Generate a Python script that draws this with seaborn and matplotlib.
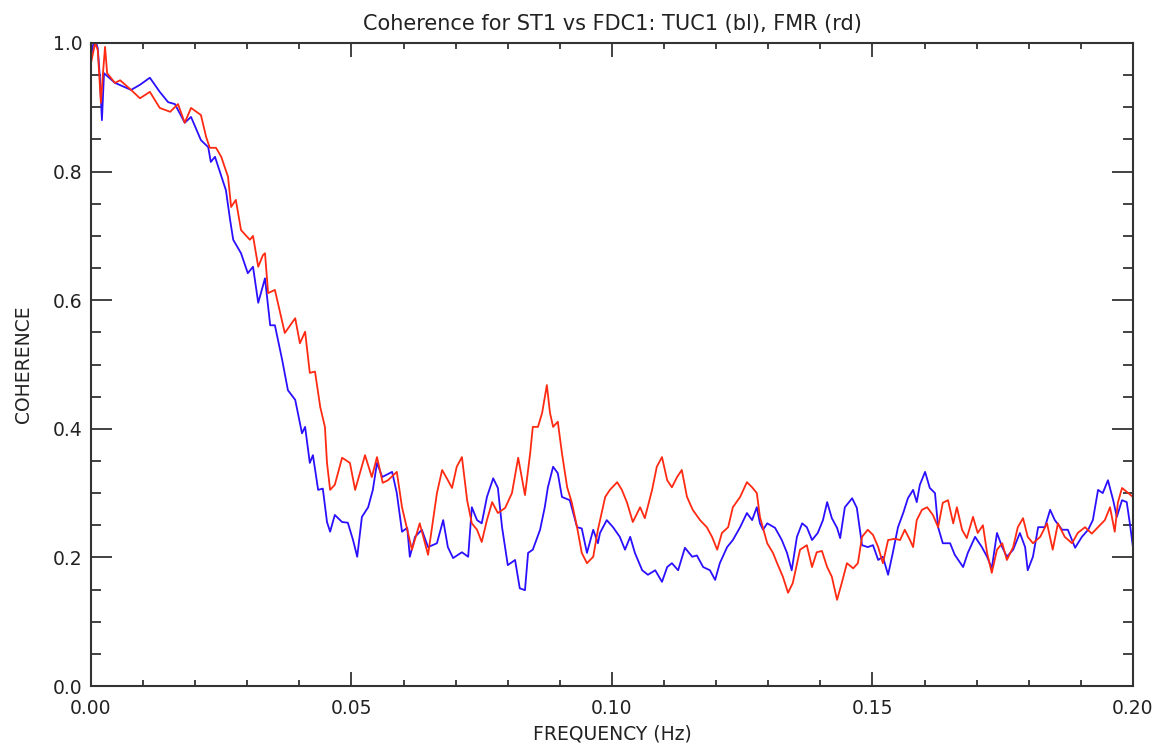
import matplotlib
matplotlib.use("Agg")
import matplotlib.pyplot as plt
from matplotlib.ticker import MultipleLocator, FormatStrFormatter
import numpy as np
import pandas as pd
import seaborn as sns

# TUC1 (blue) coherence
tuc1_freq = [0.0000, 0.0004, 0.0010, 0.0013, 0.0017, 0.0021, 0.0025, 0.0046, 0.0077, 0.0094,
             0.0113, 0.0132, 0.0148, 0.0161, 0.0180, 0.0192, 0.0211, 0.0225, 0.0230, 0.0238,
             0.0248, 0.0259, 0.0267, 0.0273, 0.0288, 0.0301, 0.0311, 0.0321, 0.0334, 0.0344,
             0.0353, 0.0367, 0.0378, 0.0392, 0.0405, 0.0411, 0.0420, 0.0426, 0.0436, 0.0445,
             0.0453, 0.0459, 0.0468, 0.0482, 0.0493, 0.0503, 0.0511, 0.0520, 0.0532, 0.0541,
             0.0549, 0.0559, 0.0578, 0.0587, 0.0597, 0.0607, 0.0612, 0.0622, 0.0635, 0.0647,
             0.0664, 0.0676, 0.0685, 0.0695, 0.0712, 0.0724, 0.0731, 0.0741, 0.0750, 0.0760,
             0.0772, 0.0781, 0.0789, 0.0800, 0.0814, 0.0823, 0.0833, 0.0839, 0.0848, 0.0862,
             0.0871, 0.0877, 0.0887, 0.0896, 0.0904, 0.0919, 0.0933, 0.0942, 0.0952, 0.0964,
             0.0973, 0.0977, 0.0990, 0.1002, 0.1015, 0.1025, 0.1035, 0.1044, 0.1058, 0.1069,
             0.1083, 0.1096, 0.1106, 0.1115, 0.1127, 0.1140, 0.1154, 0.1163, 0.1175, 0.1188,
             0.1198, 0.1207, 0.1221, 0.1232, 0.1246, 0.1259, 0.1269, 0.1278, 0.1284, 0.1290,
             0.1298, 0.1313, 0.1326, 0.1336, 0.1345, 0.1355, 0.1365, 0.1374, 0.1384, 0.1395,
             0.1405, 0.1413, 0.1422, 0.1432, 0.1438, 0.1447, 0.1461, 0.1470, 0.1480, 0.1491,
             0.1501, 0.1511, 0.1520, 0.1530, 0.1539, 0.1549, 0.1559, 0.1568, 0.1578, 0.1585,
             0.1591, 0.1601, 0.1610, 0.1620, 0.1626, 0.1635, 0.1649, 0.1658, 0.1674, 0.1683,
             0.1697, 0.1710, 0.1720, 0.1729, 0.1739, 0.1749, 0.1758, 0.1770, 0.1783, 0.1793,
             0.1798, 0.1808, 0.1818, 0.1831, 0.1841, 0.1850, 0.1864, 0.1875, 0.1889, 0.1902,
             0.1914, 0.1923, 0.1933, 0.1942, 0.1952, 0.1962, 0.1969, 0.1979, 0.1988, 0.1994,
             0.2000]
tuc1_coh = [0.978, 0.997, 1.000, 0.992, 0.947, 0.880, 0.953, 0.938, 0.927, 0.935,
            0.946, 0.924, 0.908, 0.905, 0.876, 0.885, 0.849, 0.838, 0.815, 0.823,
            0.798, 0.771, 0.725, 0.694, 0.673, 0.642, 0.652, 0.596, 0.634, 0.561,
            0.561, 0.507, 0.460, 0.445, 0.393, 0.403, 0.347, 0.359, 0.305, 0.307,
            0.255, 0.240, 0.266, 0.255, 0.254, 0.227, 0.201, 0.263, 0.278, 0.305,
            0.347, 0.325, 0.333, 0.300, 0.240, 0.246, 0.201, 0.232, 0.243, 0.216,
            0.222, 0.258, 0.216, 0.199, 0.208, 0.201, 0.278, 0.258, 0.253, 0.294,
            0.323, 0.308, 0.247, 0.188, 0.196, 0.152, 0.149, 0.207, 0.212, 0.243,
            0.278, 0.309, 0.341, 0.331, 0.294, 0.289, 0.247, 0.245, 0.207, 0.243,
            0.222, 0.238, 0.258, 0.247, 0.232, 0.212, 0.232, 0.207, 0.180, 0.173,
            0.180, 0.162, 0.185, 0.191, 0.180, 0.215, 0.201, 0.203, 0.185, 0.180,
            0.165, 0.191, 0.216, 0.227, 0.247, 0.269, 0.258, 0.278, 0.253, 0.243,
            0.253, 0.246, 0.227, 0.207, 0.180, 0.232, 0.253, 0.247, 0.227, 0.238,
            0.258, 0.286, 0.261, 0.246, 0.230, 0.278, 0.292, 0.277, 0.219, 0.216,
            0.219, 0.196, 0.201, 0.173, 0.207, 0.247, 0.269, 0.292, 0.305, 0.286,
            0.313, 0.333, 0.308, 0.300, 0.247, 0.222, 0.222, 0.204, 0.185, 0.207,
            0.232, 0.216, 0.201, 0.183, 0.238, 0.216, 0.201, 0.212, 0.238, 0.216,
            0.180, 0.201, 0.247, 0.247, 0.274, 0.258, 0.243, 0.243, 0.215, 0.232,
            0.243, 0.258, 0.305, 0.300, 0.320, 0.289, 0.263, 0.289, 0.286, 0.253,
            0.216]

# FMR (red) coherence
fmr_freq = [0.0000, 0.0008, 0.0013, 0.0019, 0.0023, 0.0027, 0.0031, 0.0046, 0.0056, 0.0077,
            0.0094, 0.0113, 0.0132, 0.0152, 0.0167, 0.0180, 0.0192, 0.0211, 0.0221, 0.0228,
            0.0240, 0.0250, 0.0263, 0.0269, 0.0278, 0.0288, 0.0305, 0.0311, 0.0321, 0.0330,
            0.0334, 0.0340, 0.0353, 0.0372, 0.0392, 0.0401, 0.0411, 0.0420, 0.0430, 0.0440,
            0.0449, 0.0453, 0.0459, 0.0468, 0.0482, 0.0497, 0.0507, 0.0526, 0.0539, 0.0549,
            0.0560, 0.0570, 0.0587, 0.0597, 0.0607, 0.0616, 0.0631, 0.0647, 0.0664, 0.0674,
            0.0683, 0.0693, 0.0702, 0.0712, 0.0722, 0.0731, 0.0741, 0.0750, 0.0760, 0.0770,
            0.0781, 0.0795, 0.0808, 0.0820, 0.0833, 0.0843, 0.0848, 0.0858, 0.0866, 0.0875,
            0.0881, 0.0887, 0.0896, 0.0904, 0.0914, 0.0923, 0.0933, 0.0942, 0.0952, 0.0964,
            0.0973, 0.0987, 0.0996, 0.1010, 0.1019, 0.1029, 0.1040, 0.1054, 0.1063, 0.1077,
            0.1086, 0.1096, 0.1106, 0.1115, 0.1125, 0.1134, 0.1144, 0.1155, 0.1169, 0.1182,
            0.1192, 0.1202, 0.1211, 0.1223, 0.1232, 0.1246, 0.1259, 0.1269, 0.1278, 0.1284,
            0.1298, 0.1309, 0.1317, 0.1328, 0.1338, 0.1347, 0.1361, 0.1374, 0.1384, 0.1393,
            0.1403, 0.1413, 0.1422, 0.1432, 0.1441, 0.1451, 0.1463, 0.1472, 0.1480, 0.1491,
            0.1501, 0.1511, 0.1520, 0.1530, 0.1543, 0.1553, 0.1562, 0.1572, 0.1578, 0.1585,
            0.1595, 0.1605, 0.1616, 0.1626, 0.1635, 0.1645, 0.1655, 0.1662, 0.1672, 0.1681,
            0.1693, 0.1702, 0.1712, 0.1720, 0.1729, 0.1739, 0.1749, 0.1758, 0.1770, 0.1779,
            0.1789, 0.1798, 0.1808, 0.1822, 0.1835, 0.1846, 0.1856, 0.1869, 0.1883, 0.1894,
            0.1908, 0.1921, 0.1933, 0.1946, 0.1956, 0.1965, 0.1971, 0.1979, 0.1988, 0.2000]
fmr_coh = [0.969, 1.000, 0.989, 0.907, 0.953, 0.994, 0.953, 0.938, 0.942, 0.927,
           0.914, 0.924, 0.899, 0.893, 0.905, 0.876, 0.899, 0.888, 0.854, 0.837,
           0.837, 0.823, 0.792, 0.745, 0.756, 0.709, 0.694, 0.700, 0.652, 0.670,
           0.673, 0.611, 0.616, 0.549, 0.572, 0.533, 0.551, 0.487, 0.489, 0.434,
           0.403, 0.347, 0.305, 0.313, 0.355, 0.347, 0.305, 0.359, 0.325, 0.356,
           0.316, 0.320, 0.333, 0.278, 0.243, 0.212, 0.253, 0.204, 0.300, 0.336,
           0.323, 0.308, 0.341, 0.356, 0.289, 0.253, 0.243, 0.224, 0.258, 0.286,
           0.269, 0.277, 0.300, 0.355, 0.297, 0.362, 0.403, 0.403, 0.425, 0.468,
           0.425, 0.403, 0.411, 0.362, 0.309, 0.285, 0.247, 0.207, 0.191, 0.201,
           0.243, 0.294, 0.305, 0.317, 0.305, 0.285, 0.255, 0.278, 0.261, 0.305,
           0.341, 0.356, 0.320, 0.309, 0.325, 0.336, 0.294, 0.274, 0.258, 0.247,
           0.232, 0.212, 0.238, 0.247, 0.278, 0.294, 0.317, 0.309, 0.300, 0.263,
           0.222, 0.207, 0.191, 0.170, 0.145, 0.160, 0.212, 0.219, 0.185, 0.208,
           0.210, 0.185, 0.170, 0.134, 0.160, 0.191, 0.183, 0.191, 0.232, 0.243,
           0.235, 0.216, 0.191, 0.227, 0.229, 0.227, 0.243, 0.227, 0.216, 0.258,
           0.274, 0.278, 0.266, 0.247, 0.285, 0.289, 0.253, 0.278, 0.243, 0.230,
           0.263, 0.238, 0.250, 0.207, 0.176, 0.212, 0.222, 0.196, 0.216, 0.247,
           0.261, 0.232, 0.222, 0.232, 0.253, 0.212, 0.253, 0.232, 0.222, 0.238,
           0.247, 0.237, 0.247, 0.258, 0.278, 0.240, 0.285, 0.308, 0.302, 0.294]

sns.set_style("ticks")
plt.rcParams["font.family"] = ["DejaVu Sans"]

fig = plt.figure(figsize=(11.65, 7.49), dpi=100)
ax = fig.add_axes([0.0781, 0.0841, 0.8944, 0.8585])

sns.lineplot(x=tuc1_freq, y=tuc1_coh, ax=ax, color="#2a10ff", linewidth=1.3, sort=False)
sns.lineplot(x=fmr_freq, y=fmr_coh, ax=ax, color="#ff2a12", linewidth=1.3, sort=False)

ax.set_xlim(0, 0.2)
ax.set_ylim(0, 1.0)
ax.xaxis.set_major_locator(MultipleLocator(0.05))
ax.xaxis.set_minor_locator(MultipleLocator(0.01))
ax.yaxis.set_major_locator(MultipleLocator(0.2))
ax.yaxis.set_minor_locator(MultipleLocator(0.05))
ax.xaxis.set_major_formatter(FormatStrFormatter("%.2f"))
ax.yaxis.set_major_formatter(FormatStrFormatter("%.1f"))

ax.tick_params(axis="both", which="both", direction="in", top=True, right=True,
               color="#222222", width=1.2, labelsize=13.5, labelcolor="#222222")
ax.tick_params(axis="x", which="major", length=10, pad=9)
ax.tick_params(axis="x", which="minor", length=4)
ax.tick_params(axis="y", which="major", length=15, pad=6)
ax.tick_params(axis="y", which="minor", length=7)

for side in ax.spines.values():
    side.set_linewidth(1.5)
    side.set_color("#333333")

ax.set_title("Coherence for ST1 vs FDC1: TUC1 (bl), FMR (rd)", fontsize=15,
             color="#222222", pad=9)
ax.set_xlabel("FREQUENCY (Hz)", fontsize=13.5, color="#222222", labelpad=5)
ax.set_ylabel("COHERENCE", fontsize=13.5, color="#222222", labelpad=14)

fig.savefig("out.png", dpi=100, facecolor="white")
